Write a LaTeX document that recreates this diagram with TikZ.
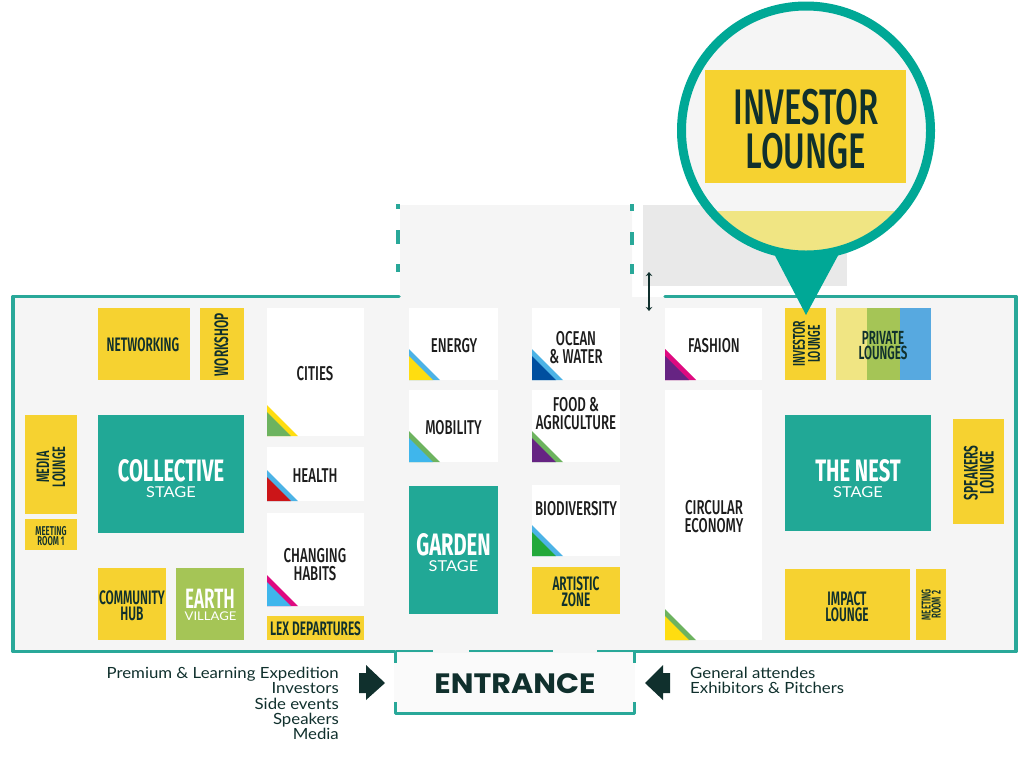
\documentclass[tikz,border=0pt]{standalone}
\usepackage{fontspec}
\usetikzlibrary{arrows.meta}
\setmainfont{Lato}
\newfontfamily\cond[FakeStretch=0.61,BoldFont={Fira Sans SemiBold}]{Fira Sans}
\newfontfamily\condw[FakeStretch=0.66,BoldFont={Fira Sans Medium}]{Fira Sans}
\newfontfamily\condb[FakeStretch=0.65]{Fira Sans}
\newfontfamily\bodyf[FakeStretch=1.09]{Lato}
\newfontfamily\entf[FakeStretch=1.08]{Poppins}
\definecolor{teal}{HTML}{29A899}
\definecolor{stagec}{HTML}{21A896}
\definecolor{lensc}{HTML}{00A896}
\definecolor{yel}{HTML}{F6D230}
\definecolor{dark}{HTML}{10302D}
\definecolor{ink}{HTML}{1C1C1C}
\definecolor{floorc}{HTML}{F5F5F5}
\definecolor{greyz}{HTML}{E9E9E9}
\definecolor{pale}{HTML}{F0E583}
\definecolor{earthc}{HTML}{A5C556}
\definecolor{sky}{HTML}{57A9E0}
\definecolor{tblue}{HTML}{4CB3E6}
\definecolor{tcyan}{HTML}{3FB6EC}
\definecolor{tgreen}{HTML}{6DB35F}
\definecolor{tyel}{HTML}{FFDD10}
\definecolor{tred}{HTML}{CC1518}
\definecolor{tmag}{HTML}{DE0A80}
\definecolor{tnavy}{HTML}{004F9F}
\definecolor{tpur}{HTML}{662483}
\definecolor{tgr2}{HTML}{22A83A}
\tikzset{
  lab/.style={inner sep=0pt,align=center,text=dark,yshift=-0.7pt,font=\cond\bfseries\fontsize{19.5}{16}\selectfont},
  labn/.style={lab,yshift=0.7pt,font=\cond\bfseries\fontsize{18}{16}\selectfont},
  labi/.style={lab,yshift=0.7pt,font=\cond\bfseries\fontsize{17}{15}\selectfont},
  labw/.style={lab,text=ink,font=\condw\bfseries\fontsize{20}{18}\selectfont},
  labs/.style={lab,font=\cond\bfseries\fontsize{12.8}{10}\selectfont},
  big/.style={inner sep=0pt,align=center,text=white,yshift=-0.7pt,font=\condb\bfseries\fontsize{31}{29}\selectfont},
  bigs/.style={big,font=\cond\bfseries\fontsize{28}{28}\selectfont},
  stg/.style={inner sep=0pt,text=white,font=\bodyf\fontsize{15}{15}\selectfont},
  stgs/.style={stg,font=\bodyf\fontsize{12}{12}\selectfont},
  side/.style={inner sep=0pt,text=dark,font=\bodyf\fontsize{15.4}{15.3}\selectfont},
  frameln/.style={draw=teal,line width=3.5pt,line join=round,line cap=round},
  thinln/.style={draw=teal,line width=2pt},
}
\newcommand\rbox[6]{\node[fill=#2,draw=none,inner sep=0pt,minimum width={(#5-#3)*1pt},minimum height={(#6-#4)*1pt}] (#1) at ({(#3+#5)/2},{(#4+#6)/2}) {};}
\newcommand\tri[4]{\fill[#4] (#1,#2-31)--(#1+31,#2)--(#1,#2)--cycle; \fill[#3] (#1,#2-24)--(#1+24,#2)--(#1,#2)--cycle;}
\begin{document}
\begin{tikzpicture}[x=1pt,y=-1pt]
\useasboundingbox (0,0) rectangle (1024,756);
% side zone
\rbox{zone}{greyz}{643}{205}{847}{286}
% floor
\fill[floorc] (400,205) -- (632,205) -- (632,297) -- (1016,297) -- (1016,652) -- (13,652) -- (13,297) -- (400,297) -- cycle;
\rbox{entrancebg}{floorc!50!white}{394}{652}{635}{714}
\draw[frameln] (399,296.5) -- (13,296.5) -- (13,651.5) -- (395,651.5);
\draw[frameln] (665,296.5) -- (1016,296.5) -- (1016,651.5) -- (634,651.5);
\draw[draw=floorc,line width=3.6pt] (397,651.5) -- (632,651.5);
\draw[thinln] (396,650.5) -- (433,650.5) (469,650.5) -- (553,650.5) (597,650.5) -- (634,650.5);
% entrance corners
\draw[teal,line width=3pt] (395.5,651) -- (395.5,663) (634.5,651) -- (634.5,663);
\draw[teal,line width=3pt,line join=round] (395.5,702) -- (395.5,713) -- (634.5,713) -- (634.5,702);
% dashes
\rbox{da}{teal}{395.5}{204}{399.5}{209}\rbox{db}{teal}{395.5}{230}{399.5}{244}\rbox{dc}{teal}{395.5}{264}{399.5}{272}
\rbox{dd}{teal}{630}{204}{634}{211}\rbox{de}{teal}{630}{232}{634}{245}\rbox{df}{teal}{630}{264}{634}{274}
% double arrow
\coordinate (ua) at (649,272); \coordinate (ub) at (649,311);
\draw[{Stealth[width=6.5pt,length=4pt]}-{Stealth[width=6.5pt,length=4pt]},dark,line width=1.5pt] (ua) -- (ub);
% rooms
\rbox{networking}{yel}{98}{308}{190}{380}
\rbox{workshop}{yel}{200}{308}{244}{380}
\rbox{cities}{white}{267}{308}{364}{436}
\rbox{health}{white}{267}{447}{364}{501}
\rbox{changing}{white}{267}{513}{364}{606}
\rbox{lex}{yel}{267}{616}{364}{640}
\rbox{media}{yel}{25}{415}{77}{514}
\rbox{meet1}{yel}{25}{519}{77}{550}
\rbox{collective}{stagec}{98}{415}{244}{533}
\rbox{community}{yel}{98}{568}{166}{640}
\rbox{earthv}{earthc}{176}{568}{244}{640}
\rbox{energy}{white}{409}{308}{498}{380}
\rbox{ocean}{white}{532}{308}{620}{380}
\rbox{mobility}{white}{409}{390}{498}{462}
\rbox{food}{white}{532}{390}{620}{462}
\rbox{gardenb}{stagec}{409}{486}{498}{614}
\rbox{biod}{white}{532}{485}{620}{556}
\rbox{artistic}{yel}{532}{567}{620}{614}
\rbox{fashion}{white}{665}{308}{762}{380}
\rbox{circular}{white}{665}{390}{762}{640}
\rbox{investor}{yel}{785}{308}{826}{380}
\rbox{priva}{pale}{836}{308}{867}{380}
\rbox{privb}{earthc}{867}{308}{900}{380}
\rbox{privc}{sky}{900}{308}{931}{380}
\rbox{nest}{stagec}{785}{415}{931}{531}
\rbox{speakers}{yel}{953}{419}{1004}{524}
\rbox{impact}{yel}{785}{569}{910}{640}
\rbox{meet2}{yel}{916}{569}{946}{640}
% corner triangles
\tri{267}{436}{tgreen}{tyel}
\tri{267}{501}{tred}{tblue}
\tri{267}{606}{tcyan}{tmag}
\tri{409}{380}{tyel}{tblue}
\tri{532}{380}{tnavy}{tblue}
\tri{665}{380}{tpur}{tmag}
\tri{409}{462}{tcyan}{tgreen}
\tri{532}{462}{tpur}{tgreen}
\tri{532}{556}{tgr2}{tblue}
\tri{665}{640}{tyel}{tgreen}
% labels
\node[lab] (tnetworking) at (143,344) {NETWORKING};
\node[lab,rotate=90,yshift=0.7pt] (tworkshop) at (222,344) {WORKSHOP};
\node[labw] (tcities) at (315,373) {CITIES};
\node[labw] (thealth) at (315,475) {HEALTH};
\node[labw] (tchanging) at (315,563.5) {CHANGING\\HABITS};
\node[lab] (tlex) at (315.5,628) {LEX DEPARTURES};
\node[labn,rotate=90] (tmedia) at (51,467) {MEDIA\\LOUNGE};
\node[labs] (tmeet1) at (51,535) {MEETING\\ROOM 1};
\node[big] (tcollective) at (171,470) {COLLECTIVE};
\node[stg] (s1) at (171,492) {STAGE};
\node[lab] (tcommunity) at (132,605) {COMMUNITY\\HUB};
\node[bigs] (tearth) at (210,598) {EARTH};
\node[stgs] (tvillage) at (210.5,616) {VILLAGE};
\node[labw] (tenergy) at (454,345) {ENERGY};
\node[labw] (tocean) at (576,346.5) {OCEAN\\\& WATER};
\node[labw] (tfashion) at (714,345) {FASHION};
\node[labw] (tmobility) at (453.5,426.5) {MOBILITY};
\node[labw] (tfood) at (576,413) {FOOD \&\\AGRICULTURE};
\node[big] (tgarden) at (453.5,544) {GARDEN};
\node[stg] (s2) at (453.5,566) {STAGE};
\node[labw] (tbiod) at (576,508) {BIODIVERSITY};
\node[lab] (tartistic) at (576,591) {ARTISTIC\\ZONE};
\node[labw] (tcircular) at (714,515.5) {CIRCULAR\\ECONOMY};
\node[labi,rotate=90] (tinvestor) at (806.5,344) {INVESTOR\\LOUNGE};
\node[lab,font=\cond\bfseries\fontsize{19}{15}\selectfont] (tprivate) at (883,344.5) {PRIVATE\\LOUNGES};
\node[big] (tnest) at (858,470) {THE NEST};
\node[stg] (s3) at (858,492) {STAGE};
\node[lab,rotate=90,yshift=0.7pt] (tspeakers) at (979.5,472) {SPEAKERS\\LOUNGE};
\node[lab] (timpact) at (847,606.5) {IMPACT\\LOUNGE};
\node[labs,rotate=90,yshift=0.7pt] (tmeet2) at (932,604) {MEETING\\ROOM 2};
% entrance
\node[inner sep=0pt,text=dark,font=\entf\bfseries\fontsize{28}{28}\selectfont] (tentrance) at (515,684) {ENTRANCE};
\fill[dark] (359,673) -- (366,673) -- (366,665) -- (385,683) -- (366,700) -- (366,693) -- (359,693) -- cycle;
\fill[dark] (670,673) -- (663,673) -- (663,665) -- (645,683) -- (663,700) -- (663,693) -- (670,693) -- cycle;
\node[side,align=right,anchor=north east] (tleft) at (339,667) {Premium \& Learning Expedition\\Investors\\Side events\\Speakers\\Media};
\node[side,align=left,anchor=north west] (tright) at (690,667) {General attendes\\Exhibitors \& Pitchers};
% magnifier pin
\fill[lensc] (772,250) -- (841,250) -- (806,315) -- cycle;
\node[circle,draw=none,fill=floorc,minimum size=249pt,inner sep=0pt] (lens) at (806,130.5) {};
\begin{scope}
\clip (806,130.5) circle (124);
\rbox{palez}{pale}{640}{211}{970}{270}
\end{scope}
\draw[lensc,line width=9pt] (806,130.5) circle (124.5);
\rbox{zoomb}{yel}{705}{70}{906}{183}
\node[inner sep=0pt,align=center,text=dark,font=\condw\bfseries\fontsize{50}{44.5}\selectfont] (tzoom) at (806,129) {INVESTOR\\LOUNGE};
\end{tikzpicture}
\end{document}
